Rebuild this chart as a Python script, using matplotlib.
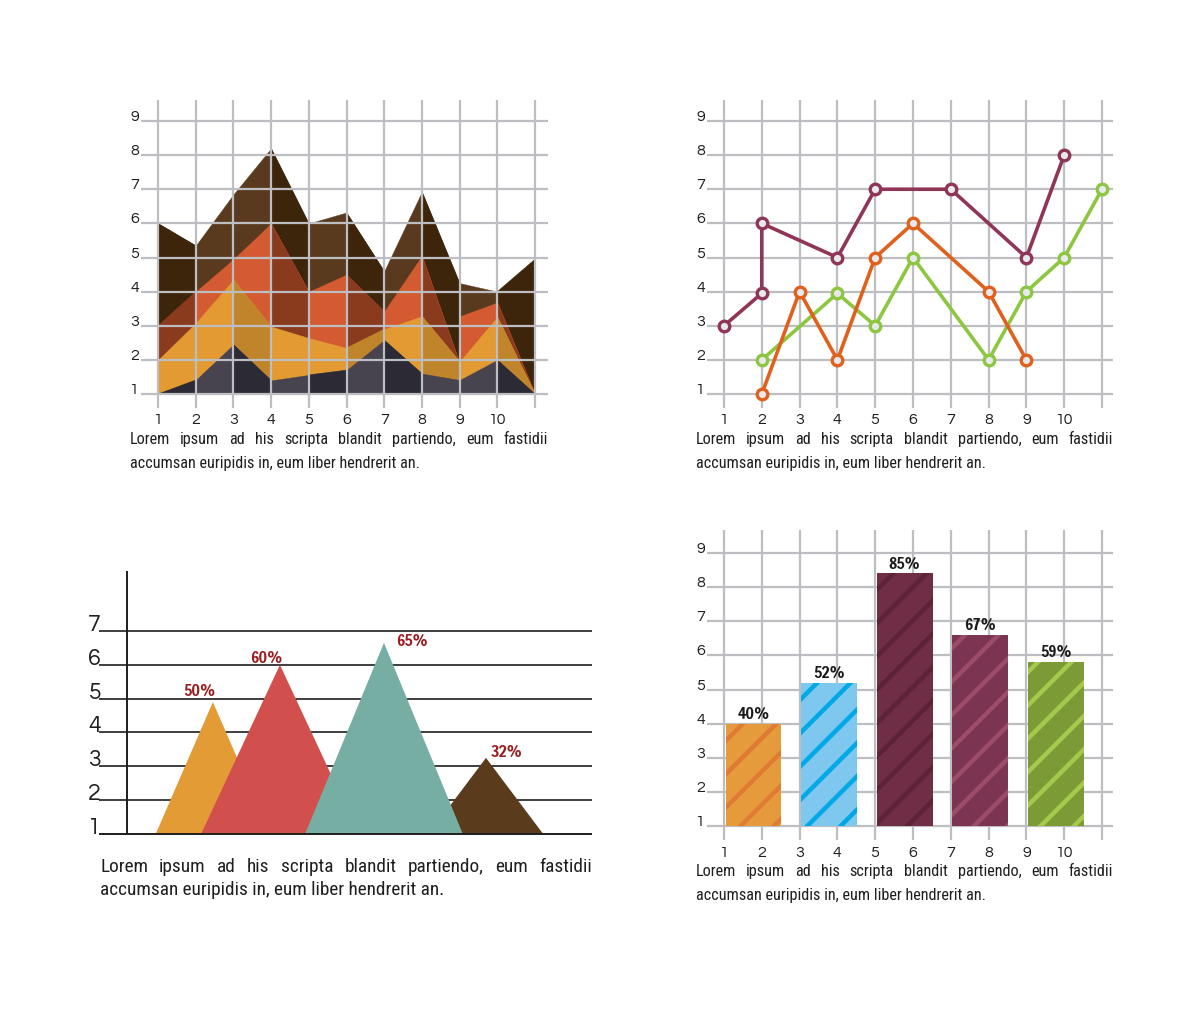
import matplotlib
matplotlib.use("Agg")
import matplotlib.pyplot as plt
import numpy as np

# ---------------- data ----------------
grid_y_ticks = [1, 2, 3, 4, 5, 6, 7, 8, 9]
grid_x_ticks = [1, 2, 3, 4, 5, 6, 7, 8, 9, 10]
grid_x_lines = [1, 2, 3, 4, 5, 6, 7, 8, 9, 10, 11]

area_x = [1, 2, 3, 4, 5, 6, 7, 8, 9, 10, 11]
area_brown = [6.0, 5.35, 6.85, 8.2, 6.0, 6.32, 4.6, 6.93, 4.25, 4.0, 4.95]
area_red_x = [1, 2, 3, 4, 5, 6, 7, 8, 9, 9, 10, 11]
area_red = [3.0, 4.0, 4.95, 6.0, 4.0, 4.5, 3.42, 5.05, 1.9, 3.28, 3.68, 1.0]
area_orange = [2.0, 3.08, 4.35, 2.98, 2.64, 2.35, 2.9, 3.28, 1.95, 3.26, 1.0]
area_gray = [1.0, 1.41, 2.45, 1.4, 1.56, 1.7, 2.58, 1.6, 1.41, 2.0, 1.0]

line_purple_x = [1, 2, 2, 4, 5, 7, 9, 10]
line_purple_y = [3, 3.95, 6, 5, 7, 7, 5, 8]
line_orange_x = [2, 3, 4, 5, 6, 8, 9]
line_orange_y = [1, 4, 2, 5, 6, 4, 2]
line_green_x = [2, 4, 5, 6, 8, 9, 10, 11]
line_green_y = [2, 3.95, 3, 5, 2, 4, 5, 7]

tri_ticks = [1, 2, 3, 4, 5, 6, 7]
tri_labels = ["50%", "60%", "65%", "32%"]
tri_heights = [4.9, 6.0, 6.65, 3.25]

bar_labels = ["40%", "52%", "85%", "67%", "59%"]
bar_values = [4.0, 5.2, 8.4, 6.6, 5.8]

caption_line1 = "Lorem ipsum ad his scripta blandit partiendo, eum fastidii"
caption_line2 = "accumsan euripidis in, eum liber hendrerit an."

# ---------------- style ----------------
W, H = 1200, 1017
GRID = "#bdbec2"
TXT = "#1f1f1f"
TICKFONT = dict(family=["Questrial", "Didact Gothic", "DejaVu Sans"], color=TXT)
CAPFONT = ["Roboto Condensed", "Archivo Narrow", "DejaVu Sans"]
PCTFONT = ["Francois One", "Fjalla One", "Anton", "DejaVu Sans"]

plt.rcParams["hatch.linewidth"] = 3.2

fig = plt.figure(figsize=(W / 100, H / 100), dpi=100)
fig.patch.set_facecolor("white")


def px_axes(box, xref, yref):
    L, T, R, B = box
    ax = fig.add_axes([L / W, 1 - B / H, (R - L) / W, (B - T) / H])
    (xd1, xp1), (xd2, xp2) = xref
    sx = (xd2 - xd1) / (xp2 - xp1)
    (yd1, yp1), (yd2, yp2) = yref
    sy = (yd2 - yd1) / (yp2 - yp1)
    ax.set_xlim(xd1 + (L - xp1) * sx, xd1 + (R - xp1) * sx)
    ax.set_ylim(yd1 + (B - yp1) * sy, yd1 + (T - yp1) * sy)
    ax.set_axis_off()
    fx = lambda p: xd1 + (p - xp1) * sx
    fy = lambda p: yd1 + (p - yp1) * sy
    return ax, fx, fy


def grid_chart(ax, fx, fy, hx, vy, label_drop_pt, z=10):
    x0, x1 = fx(hx[0]), fx(hx[1])
    ax.hlines(grid_y_ticks, x0, x1, colors=GRID, lw=1.6, zorder=z)
    ax.vlines(grid_x_lines, fy(vy[1]), fy(vy[0]), colors=GRID, lw=1.6, zorder=z)
    for v in grid_y_ticks:
        ax.annotate(str(v), xy=(x0, v), xytext=(-1.5, 0), textcoords="offset points",
                    ha="right", va="baseline", fontsize=11.5, **TICKFONT)
    for v in grid_x_ticks:
        ax.annotate(str(v), xy=(v, 1), xytext=(0, -label_drop_pt), textcoords="offset points",
                    ha="center", va="baseline", fontsize=11.5, **TICKFONT)


# ================= top-left: faceted area chart =================
ax1, fx1, fy1 = px_axes((110, 85, 570, 440), ((1, 158), (11, 535)), ((1, 394), (9, 121)))
layers = [
    (area_x, area_brown, "#5a3a1e", "#3d250b", [0, 3, 5, 7, 9]),
    (area_red_x, area_red, "#d45b31", "#8a3a1d", [0, 3, 5, 7, 10]),
    (area_x, area_orange, "#e49a33", "#c0842b", [2, 5, 7, 9]),
    (area_x, area_gray, "#47434f", "#2c2a35", [0, 2, 4, 6, 9]),
]
for z, (xs, ys, light, dark, segs) in enumerate(layers):
    ax1.fill_between(xs, 1, ys, color=light, lw=0.3, edgecolor=light, zorder=1 + z)
    for i in segs:
        ax1.fill([xs[i], xs[i + 1], xs[i + 1], xs[i]], [ys[i], ys[i + 1], 1, 1],
                 color=dark, lw=0.3, edgecolor=dark, zorder=1 + z + 0.5)
grid_chart(ax1, fx1, fy1, (141, 548), (100, 408), 21.6)

# ================= top-right: line chart =================
ax2, fx2, fy2 = px_axes((680, 85, 1140, 440), ((1, 724), (11, 1102)), ((1, 394), (9, 121)))
grid_chart(ax2, fx2, fy2, (707, 1113), (100, 408), 21.6, z=1)
for xs, ys, c in [(line_green_x, line_green_y, "#8dc63f"),
                  (line_orange_x, line_orange_y, "#e0611e"),
                  (line_purple_x, line_purple_y, "#8f3657")]:
    ax2.plot(xs, ys, color=c, lw=2.6, marker="o", ms=7.6, mew=2.4,
             mfc="#e7e9ee", mec=c, zorder=5, solid_joinstyle="round")

# ================= bottom-left: triangles =================
ax3, fx3, fy3 = px_axes((70, 550, 610, 850), ((0, 99), (10, 592)), ((1, 834), (7, 631)))
ax3.hlines(tri_ticks[1:], 0, 10, colors="#1e1e1e", lw=1.2, zorder=0)
ax3.hlines(tri_ticks[:1], 0, 10, colors="#1e1e1e", lw=1.4, zorder=6)
ax3.vlines(fx3(127), fy3(835), fy3(571), colors="#1e1e1e", lw=1.4, zorder=6)
tri_centers = [2.31, 3.67, 5.78, 7.85]
tri_half = [1.16, 1.6, 1.6, 1.16]
tri_colors = ["#e39b36", "#d14f4d", "#76aea3", "#5a3b1b"]
tri_z = [1, 2, 4, 3]
tri_offsets = [(-10, 8), (-9.5, 5), (20, 0.8), (14.5, 4.3)]
for c, hw, h, col, z, lab, off in zip(tri_centers, tri_half, tri_heights, tri_colors,
                                        tri_z, tri_labels, tri_offsets):
    ax3.fill([c - hw, c, c + hw], [1, h, 1], color=col, lw=0, zorder=z)
    ax3.annotate(lab, xy=(c, h), xytext=off, textcoords="offset points", ha="center",
                 va="center", fontsize=11.5, color="#9b1c1f", family=PCTFONT, zorder=7)
for v in tri_ticks:
    ax3.annotate(str(v), xy=(0, v), xytext=(1.2, 0), textcoords="offset points",
                 ha="right", va="baseline", fontsize=16.5, **TICKFONT)

# ================= bottom-right: hatched bars =================
ax4, fx4, fy4 = px_axes((680, 520, 1140, 880), ((1, 724), (11, 1102)), ((1, 826), (9, 553)))
grid_chart(ax4, fx4, fy4, (707, 1113), (530, 840), 22.3, z=1)
bar_centers = 1.78 + 2 * np.arange(len(bar_values))
bar_faces = ["#e59b3b", "#7ec8f0", "#6f2e46", "#7b3552", "#7c9b36"]
bar_stripes = ["#df7b35", "#00a8e6", "#5c2338", "#9c4b6b", "#a5c94d"]
base = 1
ax4.bar(bar_centers, np.array(bar_values) - base, bottom=base, width=1.48,
        color=bar_faces, edgecolor=bar_stripes, hatch="/", lw=0, zorder=3)
for c, v, lab in zip(bar_centers, bar_values, bar_labels):
    ax4.annotate(lab, xy=(c, v), xytext=(0, 3.6), textcoords="offset points", ha="center",
                 va="baseline", fontsize=11.5, color="#1a1a1a", family=PCTFONT)

# ================= captions (justified first line) =================
renderer = fig.canvas.get_renderer()


def caption(x0, x1, base1, base2, fs, line2_width):
    # fit the size so the natural second line has the width seen in the reference
    probe = fig.text(0, 0, caption_line2, fontsize=fs, family=CAPFONT)
    fs = fs * line2_width / probe.get_window_extent(renderer).width
    probe.remove()
    words = caption_line1.split()
    texts = [fig.text(0, 0, w, fontsize=fs, family=CAPFONT, color=TXT, va="baseline")
             for w in words]
    widths = [t.get_window_extent(renderer).width for t in texts]
    gap = (x1 - x0 - sum(widths)) / (len(words) - 1)
    x = x0
    for t, w in zip(texts, widths):
        t.set_position((x / W, 1 - base1 / H))
        x += w + gap
    fig.text(x0 / W, 1 - base2 / H, caption_line2, fontsize=fs, family=CAPFONT,
             color=TXT, va="baseline")


caption(130, 548, 444, 468, 11.4, 291)
caption(696, 1113, 444, 468, 11.4, 291)
caption(100, 592, 872, 895, 13.4, 347)
caption(696, 1113, 876, 900, 11.4, 291)

fig.savefig("out.png", dpi=100, facecolor="white")
